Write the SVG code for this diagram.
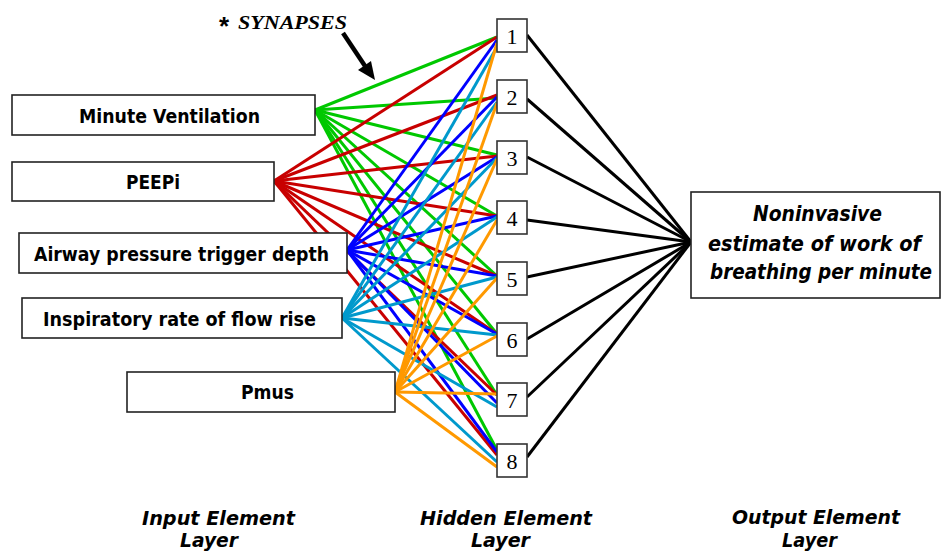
<svg xmlns="http://www.w3.org/2000/svg" width="942" height="552" viewBox="0 0 942 552">
<style>
.bg{fill:#fff}
.box{fill:#fff;stroke:#222;stroke-width:1.6}
.hid{fill:#fff;stroke:#333;stroke-width:1.6}
.in{font-family:"DejaVu Sans",sans-serif;font-weight:bold;font-size:20px;fill:#000}
.out{font-family:"DejaVu Sans",sans-serif;font-weight:bold;font-style:italic;font-size:21px;fill:#000}
.lay{font-family:"DejaVu Sans",sans-serif;font-weight:bold;font-style:italic;font-size:20px;fill:#000}
.num{font-family:"Liberation Serif",serif;font-size:22px;fill:#000;text-anchor:middle}
.syn{font-family:"Liberation Serif",serif;font-weight:bold;font-style:italic;font-size:19px;fill:#000}
.ast{font-family:"Liberation Sans",sans-serif;font-weight:bold;font-size:26px;fill:#000}
.c line{stroke-width:3;fill:none}
.g{stroke:#00c800}
.r{stroke:#c80000}
.b{stroke:#0000ff}
.cy{stroke:#0099cc}
.o{stroke:#ff9900}
.k{stroke:#000}
</style>
<rect class="bg" x="0" y="0" width="942" height="552"/>

<g id="connectors" class="c">
<g>
<line class="g" x1="315" y1="110" x2="497" y2="37"/>
<line class="g" x1="315" y1="110" x2="497" y2="98"/>
<line class="g" x1="315" y1="110" x2="497" y2="155"/>
<line class="g" x1="315" y1="110" x2="497" y2="216"/>
<line class="g" x1="315" y1="110" x2="497" y2="276"/>
<line class="g" x1="315" y1="110" x2="497" y2="334"/>
<line class="g" x1="315" y1="110" x2="497" y2="395"/>
<line class="g" x1="315" y1="110" x2="497" y2="450"/>
</g>
<g>
<line class="r" x1="274" y1="181" x2="497" y2="37"/>
<line class="r" x1="274" y1="181" x2="497" y2="95"/>
<line class="r" x1="274" y1="181" x2="497" y2="156"/>
<line class="r" x1="274" y1="181" x2="497" y2="216"/>
<line class="r" x1="274" y1="181" x2="497" y2="276"/>
<line class="r" x1="274" y1="181" x2="497" y2="334"/>
<line class="r" x1="274" y1="181" x2="497" y2="395"/>
<line class="r" x1="274" y1="181" x2="497" y2="455"/>
</g>
<g>
<line class="b" x1="347" y1="250" x2="497" y2="40"/>
<line class="b" x1="347" y1="250" x2="497" y2="97"/>
<line class="b" x1="347" y1="250" x2="497" y2="157"/>
<line class="b" x1="347" y1="250" x2="497" y2="216"/>
<line class="b" x1="347" y1="250" x2="497" y2="276"/>
<line class="b" x1="347" y1="250" x2="497" y2="334"/>
<line class="b" x1="347" y1="250" x2="497" y2="403"/>
<line class="b" x1="347" y1="250" x2="497" y2="452"/>
</g>
<g>
<line class="cy" x1="342" y1="318" x2="497" y2="47"/>
<line class="cy" x1="342" y1="318" x2="497" y2="102"/>
<line class="cy" x1="342" y1="318" x2="497" y2="158"/>
<line class="cy" x1="342" y1="318" x2="497" y2="217"/>
<line class="cy" x1="342" y1="318" x2="497" y2="277"/>
<line class="cy" x1="342" y1="318" x2="497" y2="335"/>
<line class="cy" x1="342" y1="318" x2="497" y2="407"/>
<line class="cy" x1="342" y1="318" x2="497" y2="462"/>
</g>
<g>
<line class="o" x1="395" y1="392" x2="497" y2="43"/>
<line class="o" x1="395" y1="392" x2="497" y2="103"/>
<line class="o" x1="395" y1="392" x2="497" y2="159"/>
<line class="o" x1="395" y1="392" x2="497" y2="220"/>
<line class="o" x1="395" y1="392" x2="497" y2="278"/>
<line class="o" x1="395" y1="392" x2="497" y2="336"/>
<line class="o" x1="395" y1="392" x2="497" y2="394"/>
<line class="o" x1="395" y1="392" x2="497" y2="467"/>
</g>
<g>
<line class="k" x1="527" y1="35" x2="691" y2="242"/>
<line class="k" x1="527" y1="99" x2="691" y2="242"/>
<line class="k" x1="527" y1="157" x2="691" y2="242"/>
<line class="k" x1="527" y1="220" x2="691" y2="242"/>
<line class="k" x1="527" y1="277" x2="691" y2="242"/>
<line class="k" x1="527" y1="339" x2="691" y2="242"/>
<line class="k" x1="527" y1="397" x2="691" y2="242"/>
<line class="k" x1="527" y1="457" x2="691" y2="242"/>
</g>
</g>

<g id="synapses-label">
<text class="ast" x="219" y="35">*</text>
<text class="syn" x="238" y="29" textLength="109" lengthAdjust="spacingAndGlyphs">SYNAPSES</text>
<line x1="343" y1="33" x2="365" y2="66" stroke="#000" stroke-width="4.5"/>
<path d="M375,80 L358,70 L371,61 Z" fill="#000"/>
</g>

<g id="in-mv"><rect class="box" x="12" y="95" width="303" height="40"/><text class="in" x="79" y="123" textLength="181" lengthAdjust="spacingAndGlyphs">Minute Ventilation</text></g>
<g id="in-peepi"><rect class="box" x="12" y="162" width="262" height="39"/><text class="in" x="126" y="189" textLength="54" lengthAdjust="spacingAndGlyphs">PEEPi</text></g>
<g id="in-airway"><rect class="box" x="19" y="233" width="328" height="40"/><text class="in" x="34" y="261" textLength="295" lengthAdjust="spacingAndGlyphs">Airway pressure trigger depth</text></g>
<g id="in-insp"><rect class="box" x="22" y="298" width="320" height="40"/><text class="in" x="43" y="326" textLength="273" lengthAdjust="spacingAndGlyphs">Inspiratory rate of flow rise</text></g>
<g id="in-pmus"><rect class="box" x="127" y="372" width="268" height="40"/><text class="in" x="241" y="399" textLength="53" lengthAdjust="spacingAndGlyphs">Pmus</text></g>

<g id="h1"><rect class="hid" x="497" y="19" width="30" height="33"/><text class="num" x="512" y="44">1</text></g>
<g id="h2"><rect class="hid" x="497" y="80" width="30" height="33"/><text class="num" x="512" y="105">2</text></g>
<g id="h3"><rect class="hid" x="497" y="141" width="30" height="33"/><text class="num" x="512" y="166">3</text></g>
<g id="h4"><rect class="hid" x="497" y="201" width="30" height="33"/><text class="num" x="512" y="226">4</text></g>
<g id="h5"><rect class="hid" x="497" y="262" width="30" height="33"/><text class="num" x="512" y="287">5</text></g>
<g id="h6"><rect class="hid" x="497" y="323" width="30" height="33"/><text class="num" x="512" y="348">6</text></g>
<g id="h7"><rect class="hid" x="497" y="383" width="30" height="33"/><text class="num" x="512" y="408">7</text></g>
<g id="h8"><rect class="hid" x="497" y="444" width="30" height="33"/><text class="num" x="512" y="469">8</text></g>

<g id="output"><rect class="box" x="691" y="192" width="249" height="106"/>
<text class="out" x="753" y="221" textLength="129" lengthAdjust="spacingAndGlyphs">Noninvasive</text>
<text class="out" x="708" y="251" textLength="213" lengthAdjust="spacingAndGlyphs">estimate of work of</text>
<text class="out" x="710" y="279" textLength="222" lengthAdjust="spacingAndGlyphs">breathing per minute</text>
</g>

<g id="layer-labels">
<text class="lay" x="142" y="525" textLength="153" lengthAdjust="spacingAndGlyphs">Input Element</text>
<text class="lay" x="180" y="547" textLength="58" lengthAdjust="spacingAndGlyphs">Layer</text>
<text class="lay" x="420" y="525" textLength="172" lengthAdjust="spacingAndGlyphs">Hidden Element</text>
<text class="lay" x="471" y="547" textLength="59" lengthAdjust="spacingAndGlyphs">Layer</text>
<text class="lay" x="732" y="524" textLength="168" lengthAdjust="spacingAndGlyphs">Output Element</text>
<text class="lay" x="782" y="547" textLength="55" lengthAdjust="spacingAndGlyphs">Layer</text>
</g>
</svg>
